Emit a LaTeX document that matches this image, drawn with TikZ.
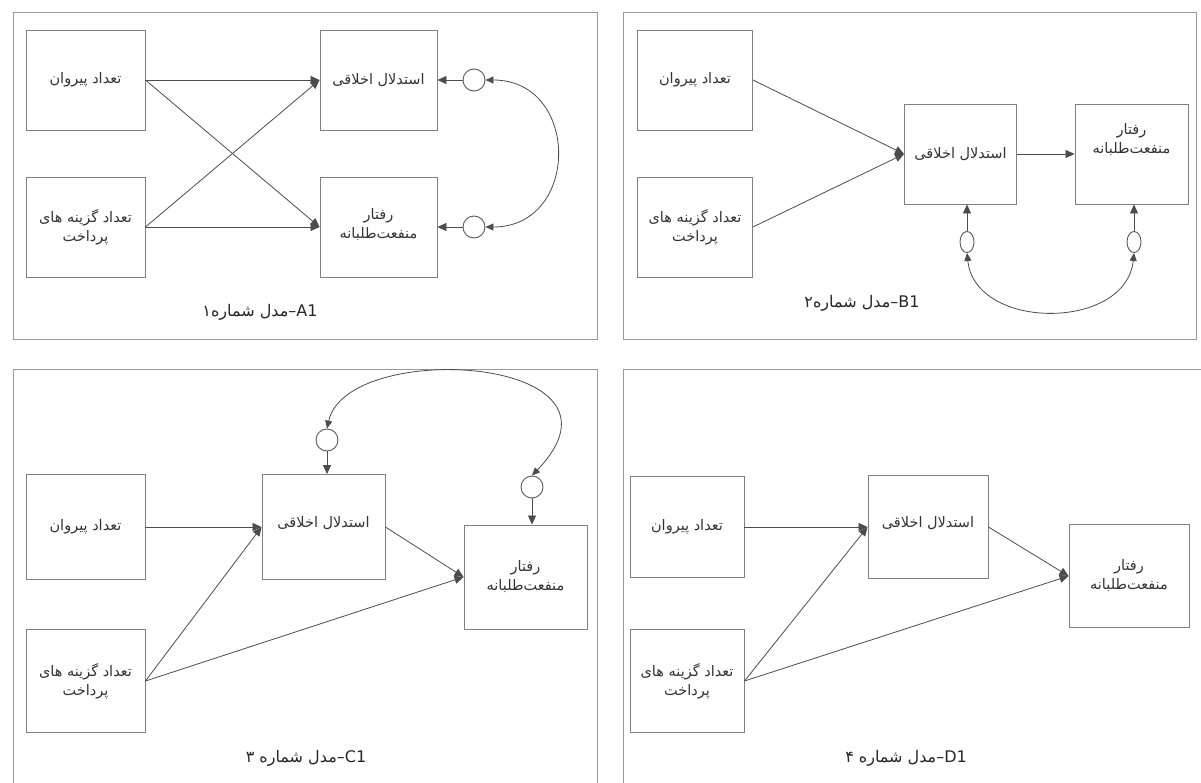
\documentclass[tikz,border=0pt]{standalone}
\usepackage{fontspec}
\usetikzlibrary{arrows.meta,shapes.geometric}
\TeXXeTstate=1
\newfontfamily\arabicfont[Script=Arabic]{DejaVu Sans}
\newcommand{\fa}[1]{\beginR #1\endR}
\tikzset{
  panel/.style={draw=black!40, line width=1pt},
  vbox/.style={draw=black!50, line width=0.9pt, inner sep=0pt, align=center,
    font=\arabicfont\fontsize{14.5}{19}\selectfont, text=black!80},
  errc/.style={circle, draw=black!65, line width=0.9pt, minimum size=22pt, inner sep=0pt},
  erre/.style={ellipse, draw=black!65, line width=0.9pt, minimum width=14pt, minimum height=21pt, inner sep=0pt},
  arr/.style={draw=black!70, line width=0.8pt, -{Triangle[length=9pt,width=8pt]}},
  dbl/.style={draw=black!70, line width=0.8pt, {Triangle[length=8pt,width=7pt]}-{Triangle[length=8pt,width=7pt]}},
  captext/.style={font=\arabicfont\fontsize{16}{19}\selectfont, text=black!85, inner sep=0pt}
}
\begin{document}
\begin{tikzpicture}[x=1pt,y=-1pt]
\clip (0,0) rectangle (1201,782);
\fill[white] (0,0) rectangle (1201,782);

% ---------------- Panel A ----------------
\draw[panel] (13,12) rectangle (597,339);
\node[vbox, minimum width=119pt, minimum height=100pt] (A1) at (85.5,80) {\fa{تعداد پیروان}};
\node[vbox, minimum width=119pt, minimum height=100pt] (A2) at (85.5,227) {\fa{تعداد گزینه های}\\\fa{پرداخت}};
\node[vbox, minimum width=117pt, minimum height=100pt] (A3) at (378.5,80) {\fa{استدلال اخلاقی}};
\node[vbox, minimum width=117pt, minimum height=100pt] (A4) at (378.5,227) {\fa{رفتار}\\\fa{منفعت‌طلبانه}\\[-12pt]};
\node[errc] (Ae1) at (474,80) {};
\node[errc] (Ae2) at (474,227) {};
\draw[arr] (A1.east) -- (A3.west);
\draw[arr] (A1.east) -- (A4.west);
\draw[arr] (A2.east) -- (A3.west);
\draw[arr] (A2.east) -- (A4.west);
\draw[arr] (Ae1.west) -- (A3.east);
\draw[arr] (Ae2.west) -- (A4.east);
\draw[dbl] (Ae1.east) .. controls +(95,0) and +(95,0) .. (Ae2.east);
\node[captext] (Acap) at (260,312) {\fa{\beginL A1\endL–مدل شماره۱}};

% ---------------- Panel B ----------------
\draw[panel] (623,12) rectangle (1196,339);
\node[vbox, minimum width=115pt, minimum height=100pt] (B1) at (695,80) {\fa{تعداد پیروان}};
\node[vbox, minimum width=115pt, minimum height=100pt] (B2) at (695,227) {\fa{تعداد گزینه های}\\\fa{پرداخت}};
\node[vbox, minimum width=112pt, minimum height=100pt] (B3) at (960.5,154) {\fa{استدلال اخلاقی}};
\node[vbox, minimum width=113pt, minimum height=100pt] (B4) at (1131.5,154) {\fa{رفتار}\\\fa{منفعت‌طلبانه}\\[13pt]};
\node[erre] (Be1) at (967,242) {};
\node[erre] (Be2) at (1134,242) {};
\draw[arr] (B1.east) -- (B3.west);
\draw[arr] (B2.east) -- (B3.west);
\draw[arr] (B3.east) -- (B4.west);
\draw[arr] (Be1.north) -- (Be1.north |- B3.south);
\draw[arr] (Be2.north) -- (Be2.north |- B4.south);
\draw[dbl] (Be1.south) .. controls +(8,78) and +(-8,78) .. (Be2.south);
\node[captext] (Bcap) at (862,303) {\fa{\beginL B1\endL–مدل شماره۲}};

% ---------------- Panel C ----------------
\draw[panel] (13,369) rectangle (597,800);
\node[vbox, minimum width=119pt, minimum height=105pt] (C1) at (85.5,527) {\fa{تعداد پیروان}};
\node[vbox, minimum width=119pt, minimum height=103pt] (C2) at (85.5,681) {\fa{تعداد گزینه های}\\\fa{پرداخت}};
\node[vbox, minimum width=123pt, minimum height=105pt] (C3) at (323.5,527) {\fa{استدلال اخلاقی}\\[-8pt]};
\node[vbox, minimum width=123pt, minimum height=104pt] (C4) at (525.5,577) {\fa{رفتار}\\\fa{منفعت‌طلبانه}};
\node[errc] (Ce1) at (327,440) {};
\node[errc] (Ce2) at (532,487) {};
\draw[arr] (C1.east) -- (C3.west);
\draw[arr] (C2.east) -- (C3.west);
\draw[arr] (C2.east) -- (C4.west);
\draw[arr] (C3.east) -- (C4.west);
\draw[arr] (Ce1.south) -- (Ce1.south |- C3.north);
\draw[arr] (Ce2.south) -- (Ce2.south |- C4.north);
\draw[dbl] (Ce1.north) .. controls +(20,-90) and +(115,-120) .. (Ce2.north);
\node[captext] (Ccap) at (306,758) {\fa{\beginL C1\endL–مدل شماره ۳}};

% ---------------- Panel D ----------------
\draw[panel] (623,369) rectangle (1230,800);
\node[vbox, minimum width=114pt, minimum height=101pt] (D1) at (687,527) {\fa{تعداد پیروان}};
\node[vbox, minimum width=114pt, minimum height=103pt] (D2) at (687,681) {\fa{تعداد گزینه های}\\\fa{پرداخت}};
\node[vbox, minimum width=120pt, minimum height=103pt] (D3) at (928,527) {\fa{استدلال اخلاقی}\\[-8pt]};
\node[vbox, minimum width=120pt, minimum height=103pt] (D4) at (1129,576) {\fa{رفتار}\\\fa{منفعت‌طلبانه}};
\draw[arr] (D1.east) -- (D3.west);
\draw[arr] (D2.east) -- (D3.west);
\draw[arr] (D2.east) -- (D4.west);
\draw[arr] (D3.east) -- (D4.west);
\node[captext] (Dcap) at (906,758) {\fa{\beginL D1\endL–مدل شماره ۴}};
\end{tikzpicture}
\end{document}
